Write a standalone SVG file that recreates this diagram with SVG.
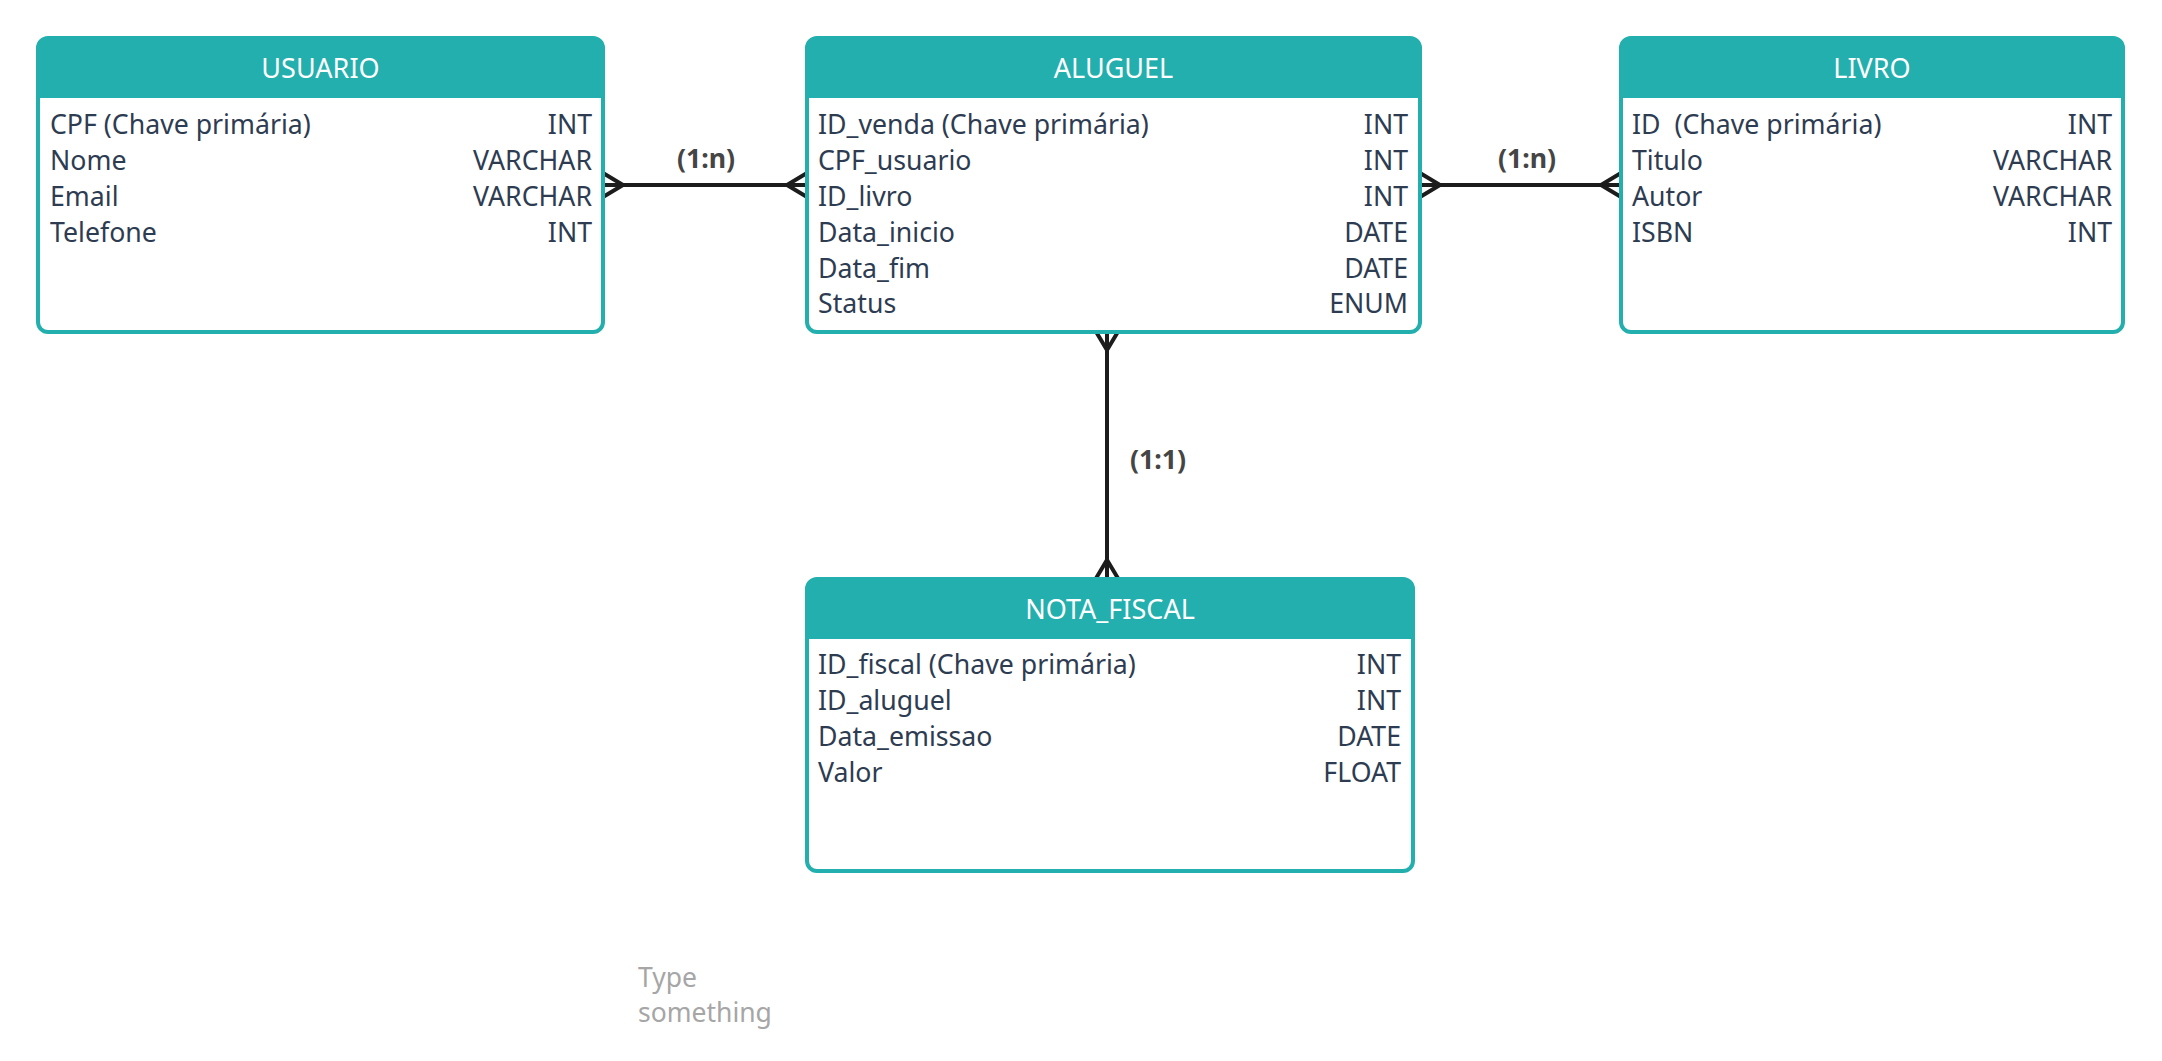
<svg xmlns="http://www.w3.org/2000/svg" width="2162" height="1061" viewBox="0 0 2162 1061">
<style>
.box{fill:#ffffff;stroke:none}
.frame{fill:none;stroke:#23AFAD;stroke-width:4}
.hdr{fill:#23AFAD}
.title{font-family:"Noto Sans",sans-serif;font-size:27px;fill:#ffffff;text-anchor:middle}
.f{font-family:"Noto Sans",sans-serif;font-size:26.7px;fill:#2E3C52}
.t{font-family:"Noto Sans",sans-serif;font-size:26.7px;fill:#2E3C52;text-anchor:end}
.lbl{font-family:"Noto Sans",sans-serif;font-size:26.7px;font-weight:bold;fill:#454545;text-anchor:middle}
.ln{fill:none;stroke:#1C1C1C;stroke-width:4;stroke-linejoin:miter}
.note{font-family:"Noto Sans",sans-serif;font-size:26.5px;fill:#A6A6A6}
</style>
<rect width="2162" height="1061" fill="#ffffff"/>
<g id="connectors">
<line class="ln" x1="603" y1="185" x2="807" y2="185"/>
<path class="ln" d="M603,173 L623,185 L603,197"/>
<path class="ln" d="M807,173 L787,185 L807,197"/>
<line class="ln" x1="1420" y1="185" x2="1621" y2="185"/>
<path class="ln" d="M1420,173 L1440,185 L1420,197"/>
<path class="ln" d="M1621,173 L1601,185 L1621,197"/>
<line class="ln" x1="1107" y1="330" x2="1107" y2="579"/>
<path class="ln" d="M1095,330 L1107,350 L1119,330"/>
<path class="ln" d="M1095,580 L1107,560 L1119,580"/>
<text class="lbl" x="706" y="168">(1:n)</text>
<text class="lbl" x="1527" y="168">(1:n)</text>
<text class="lbl" x="1158" y="469">(1:1)</text>
</g>
<g id="usuario">
<rect class="box" x="38" y="38" width="565" height="294" rx="10"/>
<path class="hdr" d="M38,98 V48 A10,10 0 0 1 48,38 H593 A10,10 0 0 1 603,48 V98 Z"/>
<rect class="frame" x="38" y="38" width="565" height="294" rx="10"/>
<text class="title" x="320.5" y="78">USUARIO</text>
<text class="f" x="50" y="134">CPF (Chave primária)</text><text class="t" x="592" y="134">INT</text>
<text class="f" x="50" y="170">Nome</text><text class="t" x="592" y="170">VARCHAR</text>
<text class="f" x="50" y="206">Email</text><text class="t" x="592" y="206">VARCHAR</text>
<text class="f" x="50" y="242">Telefone</text><text class="t" x="592" y="242">INT</text>
</g>
<g id="aluguel">
<rect class="box" x="807" y="38" width="613" height="294" rx="10"/>
<path class="hdr" d="M807,98 V48 A10,10 0 0 1 817,38 H1410 A10,10 0 0 1 1420,48 V98 Z"/>
<rect class="frame" x="807" y="38" width="613" height="294" rx="10"/>
<text class="title" x="1113.5" y="78">ALUGUEL</text>
<text class="f" x="818" y="134">ID_venda (Chave primária)</text><text class="t" x="1408" y="134">INT</text>
<text class="f" x="818" y="170">CPF_usuario</text><text class="t" x="1408" y="170">INT</text>
<text class="f" x="818" y="206">ID_livro</text><text class="t" x="1408" y="206">INT</text>
<text class="f" x="818" y="242">Data_inicio</text><text class="t" x="1408" y="242">DATE</text>
<text class="f" x="818" y="278">Data_fim</text><text class="t" x="1408" y="278">DATE</text>
<text class="f" x="818" y="313">Status</text><text class="t" x="1408" y="313">ENUM</text>
</g>
<g id="livro">
<rect class="box" x="1621" y="38" width="502" height="294" rx="10"/>
<path class="hdr" d="M1621,98 V48 A10,10 0 0 1 1631,38 H2113 A10,10 0 0 1 2123,48 V98 Z"/>
<rect class="frame" x="1621" y="38" width="502" height="294" rx="10"/>
<text class="title" x="1872" y="78">LIVRO</text>
<text class="f" x="1632" y="134" xml:space="preserve">ID  (Chave primária)</text><text class="t" x="2112" y="134">INT</text>
<text class="f" x="1632" y="170">Titulo</text><text class="t" x="2112" y="170">VARCHAR</text>
<text class="f" x="1632" y="206">Autor</text><text class="t" x="2112" y="206">VARCHAR</text>
<text class="f" x="1632" y="242">ISBN</text><text class="t" x="2112" y="242">INT</text>
</g>
<g id="nota_fiscal">
<rect class="box" x="807" y="579" width="606" height="292" rx="10"/>
<path class="hdr" d="M807,639 V589 A10,10 0 0 1 817,579 H1403 A10,10 0 0 1 1413,589 V639 Z"/>
<rect class="frame" x="807" y="579" width="606" height="292" rx="10"/>
<text class="title" x="1110" y="619">NOTA_FISCAL</text>
<text class="f" x="818" y="674">ID_fiscal (Chave primária)</text><text class="t" x="1401" y="674">INT</text>
<text class="f" x="818" y="710">ID_aluguel</text><text class="t" x="1401" y="710">INT</text>
<text class="f" x="818" y="746">Data_emissao</text><text class="t" x="1401" y="746">DATE</text>
<text class="f" x="818" y="782">Valor</text><text class="t" x="1401" y="782">FLOAT</text>
</g>
<g id="note">
<text class="note" x="638" y="987">Type</text>
<text class="note" x="638" y="1022">something</text>
</g>
</svg>
